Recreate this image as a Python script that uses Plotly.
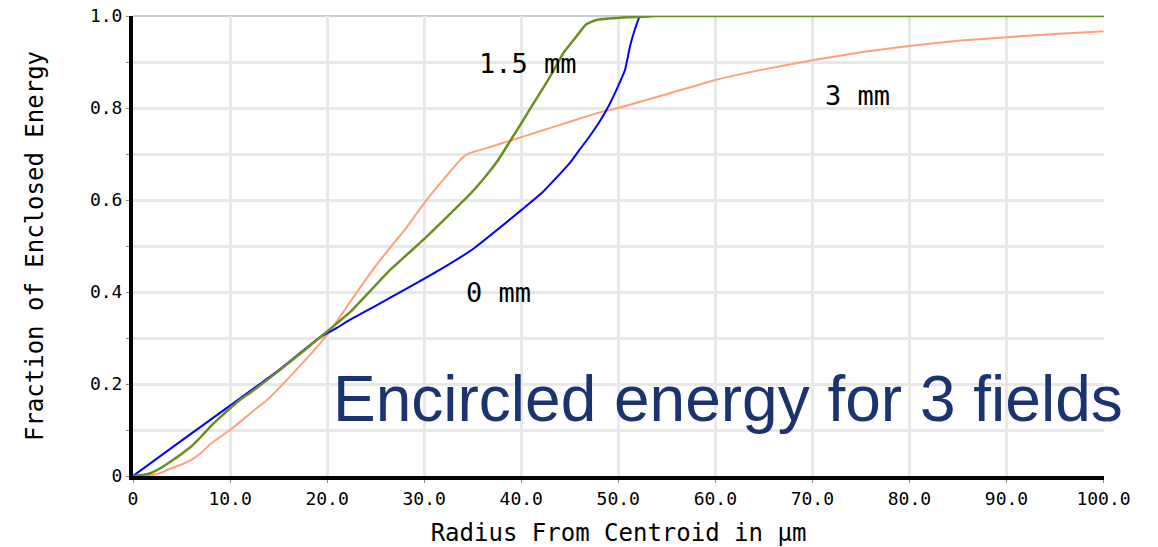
import plotly.graph_objects as go

# 0 mm field (blue)
x_0mm = [0, 5, 10, 15, 19.3, 21, 22.3, 25, 28, 31.6, 35, 38.8, 40, 42.2, 45, 46, 47, 48, 48.8, 49.8, 50.7, 51.2, 51.7, 52.2, 53, 60, 70, 80, 90, 100]
y_0mm = [0, 0.077, 0.153, 0.23, 0.302, 0.322, 0.339, 0.37, 0.405, 0.448, 0.493, 0.557, 0.578, 0.617, 0.68, 0.709, 0.737, 0.768, 0.796, 0.839, 0.883, 0.933, 0.97, 0.998, 1.0, 1.0, 1.0, 1.0, 1.0, 1.0]

# 1.5 mm field (green)
x_15mm = [0, 1, 2, 3, 4, 5, 6, 7, 8, 9, 10, 11, 12, 15, 20, 22.3, 26.5, 30.1, 34.7, 36, 37.5, 38.8, 40.1, 41.2, 42.4, 43.5, 44.3, 45.7, 46.7, 47.8, 50, 52, 54, 60, 70, 80, 90, 100]
y_15mm = [0, 0.002, 0.008, 0.019, 0.033, 0.048, 0.064, 0.085, 0.108, 0.128, 0.147, 0.165, 0.18, 0.228, 0.314, 0.355, 0.448, 0.517, 0.612, 0.643, 0.683, 0.726, 0.77, 0.808, 0.848, 0.888, 0.918, 0.956, 0.982, 0.992, 0.996, 0.998, 1.0, 1.0, 1.0, 1.0, 1.0, 1.0]

# 3 mm field (orange)
x_3mm = [0, 1, 2, 3, 3.5, 5, 6, 7, 8, 9, 10, 11.3, 12, 13.8, 15, 17, 19.3, 20.6, 22.3, 24.7, 26.7, 28, 30.1, 32, 34, 34.7, 36, 39, 42, 45, 48, 50, 55, 60, 65, 70, 75, 80, 85, 90, 95, 100]
y_3mm = [0, 0.0, 0.002, 0.008, 0.013, 0.025, 0.035, 0.05, 0.07, 0.085, 0.1, 0.122, 0.135, 0.165, 0.19, 0.235, 0.289, 0.324, 0.376, 0.448, 0.502, 0.535, 0.596, 0.645, 0.693, 0.702, 0.71, 0.73, 0.75, 0.77, 0.79, 0.80, 0.83, 0.861, 0.884, 0.904, 0.921, 0.935, 0.946, 0.954, 0.961, 0.967]

x_tickvals = [0, 10, 20, 30, 40, 50, 60, 70, 80, 90, 100]
x_ticktext = ["0", "10.0", "20.0", "30.0", "40.0", "50.0", "60.0", "70.0", "80.0", "90.0", "100.0"]
y_tickvals = [0, 0.1, 0.2, 0.3, 0.4, 0.5, 0.6, 0.7, 0.8, 0.9, 1.0]
y_ticktext = ["0", "", "0.2", "", "0.4", "", "0.6", "", "0.8", "", "1.0"]

field_labels = ["1.5 mm", "3 mm", "0 mm"]
field_label_x = [40.7, 74.7, 37.7]
field_label_y = [0.896, 0.828, 0.40]

mono = "DejaVu Sans Mono"

fig = go.Figure()
fig.add_trace(go.Scatter(x=x_3mm, y=y_3mm, mode="lines", line=dict(color="#ffa07a", width=2, shape="spline", smoothing=0.6), name="3 mm"))
fig.add_trace(go.Scatter(x=x_0mm, y=y_0mm, mode="lines", line=dict(color="#0000ff", width=2, shape="spline", smoothing=0.4), name="0 mm"))
fig.add_trace(go.Scatter(x=x_15mm, y=y_15mm, mode="lines", line=dict(color="#6b8e23", width=2.5, shape="spline", smoothing=0.4), name="1.5 mm"))

for t, xx, yy in zip(field_labels, field_label_x, field_label_y):
    fig.add_annotation(x=xx, y=yy, text=t, showarrow=False, font=dict(family=mono, size=27, color="black"))

fig.add_annotation(x=61.3, y=0.168, text="Encircled energy for 3 fields", showarrow=False,
                   font=dict(family="Liberation Sans, Arial", size=64, color="#1b3470"))

fig.add_shape(type="line", xref="paper", yref="paper", x0=0, x1=1, y0=1, y1=1,
              line=dict(color="#999999", width=1), layer="below")

fig.update_layout(
    width=1158, height=547,
    margin=dict(l=133, r=54, t=16, b=71),
    paper_bgcolor="white", plot_bgcolor="white",
    showlegend=False,
    font=dict(family=mono, color="black"),
)
fig.update_xaxes(
    range=[0, 100.05], tickvals=x_tickvals, ticktext=x_ticktext,
    tickfont=dict(family=mono, size=18, color="black"),
    showgrid=True, gridcolor="#e8e8e8", gridwidth=3,
    showline=True, linecolor="black", linewidth=4,
    ticks="outside", ticklen=3, tickcolor="#888888", zeroline=False,
    automargin=False,
    title=dict(text="Radius From Centroid in µm", font=dict(family=mono, size=24, color="black"), standoff=18),
)
fig.update_yaxes(
    range=[0, 1.0], tickvals=y_tickvals, ticktext=y_ticktext,
    tickfont=dict(family=mono, size=18, color="black"),
    showgrid=True, gridcolor="#e8e8e8", gridwidth=3,
    showline=True, linecolor="black", linewidth=4,
    ticks="outside", ticklen=3, tickcolor="#888888", zeroline=False,
    automargin=False,
    title=dict(text="Fraction of Enclosed Energy", font=dict(family=mono, size=24, color="black"), standoff=40),
)

fig.write_html("out.html")
